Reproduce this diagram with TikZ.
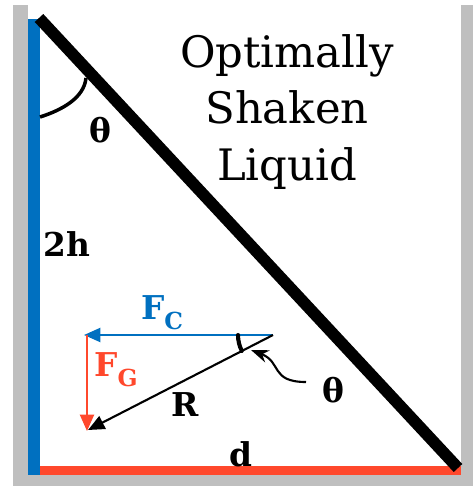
\documentclass[tikz,border=0pt]{standalone}
\usepackage{fontspec}
\setmainfont{DejaVu Serif}
\usetikzlibrary{arrows.meta}
\definecolor{wallgray}{RGB}{191,191,191}
\definecolor{fcblue}{RGB}{0,112,192}
\definecolor{fgred}{RGB}{255,72,44}

\begin{document}
\begin{tikzpicture}[x=0.03cm,y=-0.03cm,
  lbl/.style={font=\bfseries\fontsize{28}{28}\selectfont},
  force/.style={line width=1.8pt,-{Triangle[length=14pt,width=12pt]}}]
  \useasboundingbox (0,0) rectangle (473,486);
  % container walls
  \fill[wallgray] (13,5) rectangle (28,486);
  \fill[wallgray] (461,5) rectangle (473,486);
  \fill[wallgray] (13,475) rectangle (473,486);
  % liquid surface
  \coordinate (bl) at (33,470.5);
  \coordinate (br) at (461,470.5);
  \coordinate (wtop) at (34,19);
  \coordinate (wbot) at (34,475);
  \coordinate (stop) at (39,18);
  \coordinate (sbot) at (458,468);
  \draw[fgred,line width=7.7pt] (bl) -- (br);
  \draw[fcblue,line width=10pt] (wtop) -- (wbot);
  \draw[line width=10pt] (stop) -- (sbot);
  \draw[line width=3pt] (40,117) .. controls (62,110) and (84,98) .. (86,78);
  % forces
  \coordinate (apex) at (273,335);
  \coordinate (fctip) at (84,335);
  \coordinate (fgtop) at (87,335);
  \coordinate (fgtip) at (87,431);
  \coordinate (rtip) at (88,430);
  \draw[force,fcblue] (apex) -- (fctip);
  \draw[force,fgred] (fgtop) -- (fgtip);
  \draw[force] (apex) -- (rtip);
  \draw[line width=3.5pt,line cap=round] (apex) ++(180:35) arc[start angle=180,end angle=153,radius=35];
  \coordinate (ptail) at (306,382);
  \coordinate (ptip) at (251,350);
  \draw[line width=1.8pt,-{Stealth[length=15pt,width=11pt]}] (ptail) .. controls (270,382) and (282,362) .. (ptip);
  % labels
  \node[font=\fontsize{37}{48}\selectfont,align=center] (title) at (287,112) {Optimally\\Shaken\\Liquid};
  \node[lbl] (thetaA) at (100,130) {θ};
  \node[lbl] (thetaB) at (333,390) {θ};
  \node[lbl] (height) at (67,244) {2h};
  \node[lbl] (width) at (241,454) {d};
  \node[lbl,fcblue] (fclabel) at (162,313) {F\raisebox{-0.3em}{\fontsize{20}{20}\selectfont C}};
  \node[lbl,fgred] (fglabel) at (116,370) {F\raisebox{-0.3em}{\fontsize{20}{20}\selectfont G}};
  \node[lbl] (rlabel) at (185,405) {R};
\end{tikzpicture}
\end{document}
